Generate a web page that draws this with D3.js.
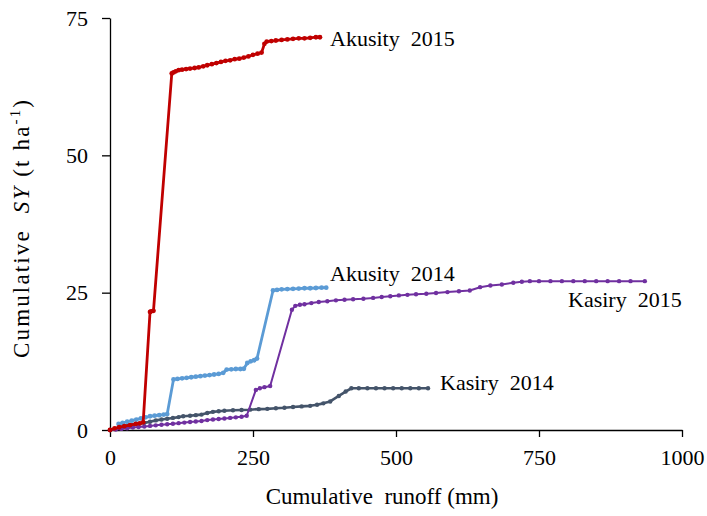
<!DOCTYPE html>
<html>
<head>
<meta charset="utf-8">
<script src="https://cdn.jsdelivr.net/npm/d3@7"></script>
<style>
  html, body { margin: 0; padding: 0; background: #fff; }
  svg { display: block; }
  text { font-family: "Liberation Serif", "Times New Roman", serif; fill: #000; }
</style>
</head>
<body>
<svg id="chart" width="707" height="516"></svg>
<script>
// Cumulative runoff (mm) vs cumulative sediment yield (t ha-1)
const akusity2015 = [
  [0,0],[8,0.3],[16,0.5],[25,0.7],[35,0.9],[45,1.1],[52,1.2],[58,1.4],
  [70,21.5],[72,21.6],[76,21.7],
  [108,64.9],[111,65.1],[115,65.3],[120,65.5],[126,65.6],[133,65.7],[140,65.8],
  [148,65.9],[155,66.0],[163,66.2],[170,66.4],[178,66.6],[186,66.8],[194,67.0],
  [202,67.2],[210,67.3],[218,67.5],[226,67.6],[234,67.8],[242,68.0],[250,68.3],
  [258,68.5],[265,68.7],[270,70.3],[274,70.7],[282,70.8],[290,70.9],[300,71.0],
  [310,71.1],[320,71.2],[330,71.3],[340,71.3],[350,71.4],[360,71.5],[367,71.5]
];
const akusity2014 = [
  [15,1.1],[22,1.3],[30,1.5],[38,1.7],[46,1.9],[54,2.1],[62,2.3],[70,2.5],
  [78,2.6],[86,2.7],[94,2.8],[100,2.9],
  [111,9.2],[118,9.3],[126,9.4],[134,9.5],[142,9.6],[150,9.7],[158,9.8],
  [166,9.9],[174,10.0],[182,10.1],[190,10.2],[198,10.4],
  [204,11.0],[212,11.05],[220,11.1],[228,11.1],[234,11.15],
  [240,12.2],[246,12.5],[252,12.7],[257,13.0],
  [285,25.4],[292,25.5],[300,25.6],[310,25.65],[320,25.7],[330,25.75],
  [340,25.8],[350,25.8],[360,25.85],[370,25.9],[378,25.9]
];
const kasiry2015 = [
  [0,0],[10,0.1],[20,0.2],[30,0.3],[40,0.45],[50,0.55],[60,0.65],[70,0.75],
  [80,0.85],[90,0.95],[100,1.05],[110,1.15],[120,1.25],[130,1.35],[140,1.45],
  [150,1.55],[160,1.65],[170,1.8],[180,1.9],[190,2.0],[200,2.1],[210,2.2],
  [220,2.3],[230,2.4],[239,2.6],
  [255,7.3],[262,7.6],[270,7.8],[280,8.0],
  [318,21.9],[324,22.6],[332,22.8],[340,22.9],[352,23.1],[365,23.3],[380,23.45],
  [395,23.6],[410,23.7],[425,23.8],[443,23.9],[460,24.05],[475,24.2],[490,24.35],
  [505,24.5],[520,24.6],[535,24.7],[553,24.8],[570,24.95],[590,25.1],[610,25.25],
  [629,25.4],[647,26.0],[665,26.3],[685,26.5],[705,26.8],[720,27.0],[734,27.1],
  [750,27.1],[770,27.1],[790,27.1],[810,27.1],[830,27.1],[850,27.1],[870,27.1],
  [890,27.1],[910,27.1],[935,27.1]
];
const kasiry2014 = [
  [0,0],[10,0.2],[20,0.45],[30,0.7],[40,0.9],[50,1.1],[60,1.3],[70,1.5],
  [80,1.75],[90,1.9],[100,2.05],[110,2.2],[120,2.35],[128,2.5],[140,2.6],
  [150,2.7],[160,2.8],[170,3.1],[180,3.3],[190,3.4],[200,3.5],[215,3.6],
  [230,3.65],[245,3.7],[260,3.8],[275,3.85],[290,3.95],[305,4.05],[320,4.2],
  [335,4.3],[350,4.4],[362,4.6],[373,4.85],[385,5.2],[400,6.2],[412,7.0],
  [422,7.6],[435,7.6],[450,7.6],[465,7.6],[480,7.6],[495,7.6],[510,7.6],
  [525,7.6],[540,7.6],[556,7.6]
];

const xTicks = [0, 250, 500, 750, 1000];
const yTicks = [0, 25, 50, 75];

const series = [
  { name: "Kasiry 2014",  data: kasiry2014,  color: "#44546A", width: 2.6, r: 2.2, lx: 440, ly: 390 },
  { name: "Kasiry 2015",  data: kasiry2015,  color: "#7030A0", width: 2.0, r: 2.2, lx: 568, ly: 307 },
  { name: "Akusity 2014", data: akusity2014, color: "#5B9BD5", width: 2.8, r: 2.4, lx: 330, ly: 281 },
  { name: "Akusity 2015", data: akusity2015, color: "#C00000", width: 2.8, r: 2.4, lx: 330, ly: 46 }
];

const svg = d3.select("#chart");
const x = d3.scaleLinear().domain([0, 1000]).range([110, 682]);
const y = d3.scaleLinear().domain([0, 75]).range([430, 18]);

// axes
const xAxis = svg.append("g")
  .attr("transform", `translate(0,${y(0)})`)
  .call(d3.axisBottom(x).tickValues(xTicks).tickFormat(d3.format("d"))
    .tickSize(7).tickPadding(9).tickSizeOuter(0));
const yAxis = svg.append("g")
  .attr("transform", `translate(${x(0)},0)`)
  .call(d3.axisLeft(y).tickValues(yTicks).tickFormat(d3.format("d"))
    .tickSize(8).tickPadding(14).tickSizeOuter(0));

[xAxis, yAxis].forEach(g => {
  g.select(".domain").attr("stroke", "#000").attr("stroke-width", 1.3);
  g.selectAll(".tick line").attr("stroke", "#000").attr("stroke-width", 1.3);
  g.selectAll(".tick text")
    .attr("font-family", "Liberation Serif, Times New Roman, serif")
    .attr("font-size", 22).attr("fill", "#000");
});
xAxis.selectAll(".tick text").attr("dy", "0.85em");

// series lines and markers
const line = d3.line().x(d => x(d[0])).y(d => y(d[1]));
series.forEach(s => {
  const g = svg.append("g");
  g.append("path")
    .datum(s.data)
    .attr("d", line)
    .attr("fill", "none")
    .attr("stroke", s.color)
    .attr("stroke-width", s.width)
    .attr("stroke-linejoin", "round");
  g.selectAll("circle")
    .data(s.data)
    .join("circle")
    .attr("cx", d => x(d[0]))
    .attr("cy", d => y(d[1]))
    .attr("r", s.r)
    .attr("fill", s.color);
  svg.append("text")
    .attr("x", s.lx).attr("y", s.ly)
    .attr("font-size", 22)
    .attr("xml:space", "preserve")
    .text(s.name.replace(" ", "  "));
});

// axis titles
svg.append("text")
  .attr("x", 382).attr("y", 504)
  .attr("text-anchor", "middle")
  .attr("font-size", 23)
  .attr("xml:space", "preserve")
  .text("Cumulative  runoff (mm)");

const yt = svg.append("text")
  .attr("transform", "translate(29,358) rotate(-90)")
  .attr("text-anchor", "start")
  .attr("font-size", 23)
  .attr("textLength", 258)
  .attr("lengthAdjust", "spacing")
  .attr("xml:space", "preserve");
yt.append("tspan").text("Cumulative  ");
yt.append("tspan").attr("font-style", "italic").text("SY");
yt.append("tspan").text(" (t ha");
yt.append("tspan").attr("font-size", 15).attr("dy", -9).text("-1");
yt.append("tspan").attr("dy", 9).text(")");
</script>
</body>
</html>
